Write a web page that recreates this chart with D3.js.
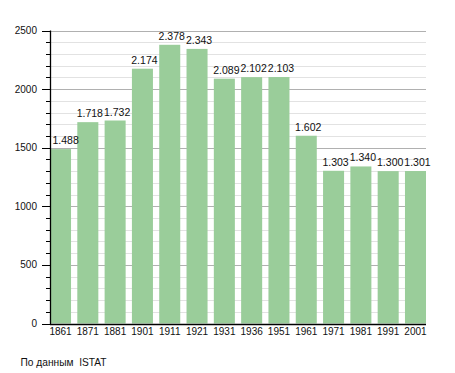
<!DOCTYPE html>
<html>
<head>
<meta charset="utf-8">
<script src="https://cdn.jsdelivr.net/npm/d3@7"></script>
<style>
  body { margin: 0; background: #fff; }
  svg text { font-family: "Liberation Sans", Arial, sans-serif; fill: #111; }
</style>
</head>
<body>
<svg id="chart" width="455" height="373"></svg>
<script>
    // Data
    const years = ['1861', '1871', '1881', '1901', '1911', '1921', '1931', '1936', '1951', '1961', '1971', '1981', '1991', '2001'];
    const population = [1488, 1718, 1732, 2174, 2378, 2343, 2089, 2102, 2103, 1602, 1303, 1340, 1300, 1301];
    const yTicks = [0, 500, 1000, 1500, 2000, 2500];
    const sourceNote = 'По данным  ISTAT';

    const svg = d3.select('#chart');

    const plotLeft = 50, plotRight = 426, plotTop = 30.5, plotBottom = 323.5;

    const xScale = d3.scaleBand()
        .domain(years)
        .range([plotLeft, plotRight])
        .paddingInner(0.23)
        .paddingOuter(0);

    const yScale = d3.scaleLinear()
        .domain([0, 2500])
        .range([plotBottom, plotTop]);

    const snap = v => Math.round(yScale(v)) + 0.5;

    // Grid lines, minor every 100, major every 500
    const minor = d3.range(100, 2501, 100).filter(v => v % 500 !== 0);
    svg.append('g')
        .selectAll('line')
        .data(minor)
        .enter()
        .append('line')
        .attr('x1', plotLeft)
        .attr('x2', plotRight)
        .attr('y1', snap)
        .attr('y2', snap)
        .attr('stroke', '#e2e2e2');

    svg.append('g')
        .selectAll('line')
        .data(yTicks.filter(v => v > 0))
        .enter()
        .append('line')
        .attr('x1', plotLeft)
        .attr('x2', plotRight)
        .attr('y1', snap)
        .attr('y2', snap)
        .attr('stroke', '#b0b0b0');

    // Bars
    svg.append('g')
        .selectAll('rect')
        .data(population)
        .enter()
        .append('rect')
        .attr('x', (d, i) => xScale(years[i]))
        .attr('width', xScale.bandwidth())
        .attr('y', d => yScale(d))
        .attr('height', d => plotBottom - yScale(d))
        .attr('fill', '#9acd9a');

    // Value labels (nudged right, kept clear of the y axis)
    const fmt = v => d3.format(',')(v).replace(',', '.');
    svg.append('g')
        .selectAll('text')
        .data(population)
        .enter()
        .append('text')
        .attr('x', (d, i) => xScale(years[i]) + xScale.bandwidth() / 2 + 2)
        .attr('y', d => yScale(d) - 5)
        .attr('text-anchor', 'middle')
        .style('font-size', '10.5px')
        .text(fmt)
        .each(function () {
            const box = this.getBBox();
            if (box.x < plotLeft + 2) {
                d3.select(this).attr('x', +d3.select(this).attr('x') + (plotLeft + 2.5 - box.x));
            }
        });

    // Y axis with minor ticks
    const yAxis = svg.append('g');
    yAxis.selectAll('line.minor')
        .data(minor)
        .enter()
        .append('line')
        .attr('x1', plotLeft - 4)
        .attr('x2', plotLeft)
        .attr('y1', snap)
        .attr('y2', snap)
        .attr('stroke', '#000');
    yAxis.selectAll('line.major')
        .data(yTicks)
        .enter()
        .append('line')
        .attr('x1', plotLeft - 8)
        .attr('x2', plotLeft)
        .attr('y1', snap)
        .attr('y2', snap)
        .attr('stroke', '#000');
    yAxis.selectAll('text')
        .data(yTicks)
        .enter()
        .append('text')
        .attr('x', 37)
        .attr('y', d => yScale(d) + 3.5)
        .attr('text-anchor', 'end')
        .style('font-size', '10px')
        .text(d => d);
    yAxis.append('line')
        .attr('x1', plotLeft + 0.5)
        .attr('x2', plotLeft + 0.5)
        .attr('y1', plotTop)
        .attr('y2', plotBottom + 0.5)
        .attr('stroke', '#000')
        .attr('stroke-width', 1.3);

    // X axis
    svg.append('line')
        .attr('x1', plotLeft)
        .attr('x2', plotRight)
        .attr('y1', Math.round(plotBottom) + 0.5)
        .attr('y2', Math.round(plotBottom) + 0.5)
        .attr('stroke', '#000')
        .attr('stroke-width', 1.3);

    svg.append('g')
        .selectAll('text')
        .data(years)
        .enter()
        .append('text')
        .attr('x', d => xScale(d) + xScale.bandwidth() / 2)
        .attr('y', 334.5)
        .attr('text-anchor', 'middle')
        .style('font-size', '10px')
        .text(d => d);

    // Source note
    svg.append('text')
        .attr('x', 20.5)
        .attr('y', 366)
        .style('font-size', '10.2px')
        .style('white-space', 'pre')
        .text(sourceNote);
</script>
</body>
</html>
